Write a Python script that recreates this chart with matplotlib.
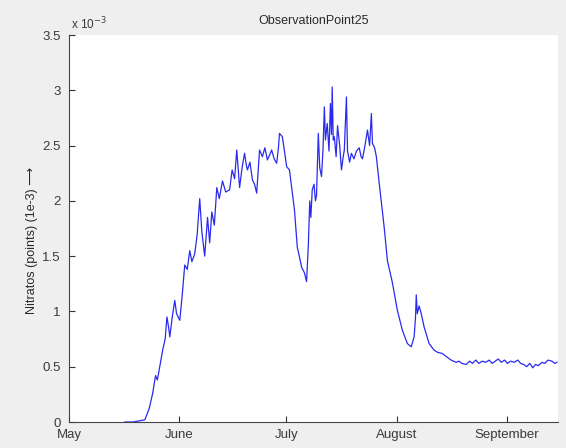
import matplotlib
matplotlib.use("Agg")
import matplotlib.pyplot as plt

# Days since May 1 and nitrate values (in units of 1e-3)
days = [15.7, 18.0, 21.3, 22.5, 23.5, 24.3, 24.8, 25.2, 26.3, 27.0, 27.5, 28.0, 28.3, 29.0, 29.7,
        30.2, 31.1, 31.8, 32.5, 33.2, 33.9, 34.5, 35.3, 36.0, 36.7, 37.3, 38.1, 38.9, 39.5, 40.1,
        40.8, 41.5, 42.2, 43.1, 44.0, 45.1, 45.8, 46.5, 47.1, 47.6, 47.9, 48.6, 49.3, 49.8, 50.1,
        50.8, 51.5, 52.1, 52.7, 53.5, 54.3, 55.0, 55.7, 56.4, 56.9, 57.6, 58.3, 58.8, 59.1, 59.9,
        60.5, 61.1, 61.9, 62.6, 63.3, 64.1, 64.8, 65.3, 66.1, 66.7, 67.2, 67.6, 67.9, 68.3, 68.8,
        69.2, 69.5, 70.0, 70.4, 70.9, 71.3, 71.7, 72.0, 72.5, 73.0, 73.4, 73.7, 73.9, 74.2, 74.5,
        75.0, 75.4, 76.0, 76.5, 77.0, 77.3, 77.9, 78.2, 78.8, 79.3, 80.0, 80.7, 81.5, 82.0, 82.4,
        83.1, 83.8, 84.4, 84.9, 85.2, 85.8, 86.3, 87.1, 88.5, 89.4, 90.8, 92.2, 93.6, 95.0, 96.1,
        96.9, 97.3, 97.5, 97.8, 98.3, 98.9, 99.7, 101.1, 102.5, 103.5, 104.8, 106.0, 107.3, 108.7,
        109.5, 110.3, 111.5, 112.5, 113.3, 114.2, 115.1, 116.0, 117.0, 118.0, 118.8, 119.7, 120.5,
        121.4, 122.3, 123.1, 124.0, 125.0, 126.0, 126.8, 127.7, 128.5, 129.4, 130.2, 131.0, 131.8,
        132.8, 133.6, 134.5, 135.6, 136.4, 137.0]
nitrate = [0.0, 0.0, 0.02, 0.12, 0.26, 0.42, 0.38, 0.45, 0.65, 0.75, 0.95, 0.85, 0.77, 0.95, 1.10,
           0.98, 0.92, 1.15, 1.42, 1.38, 1.55, 1.45, 1.52, 1.70, 2.02, 1.72, 1.50, 1.85, 1.62, 1.90,
           1.78, 2.12, 2.02, 2.18, 2.08, 2.10, 2.28, 2.20, 2.46, 2.25, 2.12, 2.30, 2.43, 2.32, 2.28,
           2.35, 2.19, 2.15, 2.07, 2.46, 2.40, 2.48, 2.37, 2.42, 2.46, 2.38, 2.34, 2.48, 2.61, 2.58,
           2.45, 2.31, 2.28, 2.10, 1.92, 1.58, 1.48, 1.40, 1.35, 1.27, 1.60, 2.00, 1.85, 2.10, 2.15,
           2.00, 2.05, 2.61, 2.30, 2.22, 2.45, 2.85, 2.55, 2.70, 2.45, 2.88, 2.60, 3.03, 2.55, 2.58,
           2.40, 2.68, 2.50, 2.28, 2.40, 2.46, 2.94, 2.45, 2.35, 2.43, 2.38, 2.45, 2.48, 2.40, 2.38,
           2.50, 2.64, 2.50, 2.79, 2.52, 2.48, 2.40, 2.16, 1.76, 1.46, 1.26, 1.01, 0.83, 0.71, 0.68,
           0.77, 0.95, 1.15, 0.98, 1.05, 0.98, 0.86, 0.71, 0.65, 0.63, 0.62, 0.59, 0.56, 0.54,
           0.55, 0.53, 0.52, 0.55, 0.53, 0.56, 0.53, 0.55, 0.54, 0.56, 0.53, 0.55, 0.57,
           0.54, 0.56, 0.53, 0.55, 0.54, 0.56, 0.53, 0.52, 0.50, 0.53, 0.49, 0.52, 0.51,
           0.54, 0.53, 0.56, 0.55, 0.53, 0.54]

month_ticks = [0, 31, 61, 92, 123]
month_labels = ["May", "June", "July", "August", "September"]
y_ticks = [0, 0.5, 1, 1.5, 2, 2.5, 3, 3.5]
y_labels = ["0", "0.5", "1", "1.5", "2", "2.5", "3", "3.5"]

plt.rcParams['font.family'] = ['Liberation Sans', 'DejaVu Sans']

fig = plt.figure(figsize=(5.66, 4.48), dpi=100)
fig.patch.set_facecolor('#efefef')
ax = fig.add_axes([69/566, 1 - 422/448, (558 - 69)/566, (422 - 35)/448])
ax.set_facecolor('white')

ax.plot(days, nitrate, color='#2a2aee', lw=0.9)

ax.set_xlim(0, 137.3)
ax.set_ylim(0, 3.5)
ax.set_xticks(month_ticks)
ax.set_xticklabels(month_labels, fontsize=9.5, color='#3a3a3a')
ax.set_yticks(y_ticks)
ax.set_yticklabels(y_labels, fontsize=9.5, color='#3a3a3a')
ax.tick_params(direction='in', length=4, width=0.8, color='#333333')
ax.tick_params(axis='x', pad=5)
ax.tick_params(axis='y', pad=6)

for s in ['top', 'right']:
    ax.spines[s].set_visible(False)
for s in ['left', 'bottom']:
    ax.spines[s].set_color('#444444')
    ax.spines[s].set_linewidth(0.8)

ax.set_title("ObservationPoint25", fontsize=9, color='#2a2a2a', pad=8)
ax.set_ylabel("Nitratos (points) (1e-3) \u27f6", fontsize=9, color='#2a2a2a', labelpad=10)
ax.yaxis.set_label_coords(-0.064, 0.47)
ax.text(0.004, 1.006, "x 10$^{-3}$", transform=ax.transAxes, fontsize=8.5,
        color='#3a3a3a', ha='left', va='bottom')

fig.savefig("out.png", dpi=100, facecolor=fig.get_facecolor())
